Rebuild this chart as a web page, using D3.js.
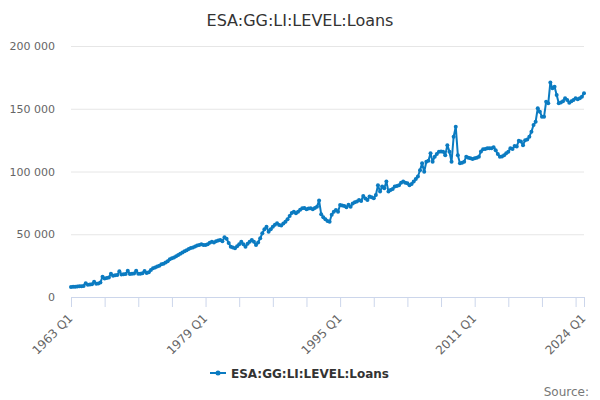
<!DOCTYPE html>
<html>
<head>
<meta charset="utf-8">
<script src="https://cdn.jsdelivr.net/npm/d3@7"></script>
<style>
  body { margin: 0; background: #fff; }
  svg { font-family: "DejaVu Sans", sans-serif; }
</style>
</head>
<body>
<div id="chart"></div>
<script>
const TITLE = "ESA:GG:LI:LEVEL:Loans";
const START_YEAR = 1963;

// quarterly values, thousands
const loans1963to1978 = [
  8.0, 8.1, 8.2, 8.3, 8.5, 8.6, 8.8, 11.0, 9.8, 9.9,
  10.2, 12.2, 10.6, 10.8, 11.5, 16.2, 14.8, 15.2, 15.6, 18.5,
  17.0, 17.3, 17.6, 20.5, 18.0, 18.2, 18.4, 21.0, 18.3, 18.5,
  18.7, 21.0, 18.5, 18.6, 18.9, 20.7, 19.2, 19.8, 21.5, 22.9,
  23.5, 24.3, 25.0, 26.0, 26.5, 27.5, 28.5, 30.0, 30.8, 31.5,
  32.5, 33.5, 34.5, 35.5, 36.5, 37.3, 38.2, 39.0, 39.5, 40.2,
  41.0, 41.5, 42.0, 41.5
];
const loans1979to1994 = [
  41.4, 42.0, 43.2, 44.0, 43.5, 44.5,
  45.0, 45.5, 44.5, 47.6, 46.5, 43.0, 40.0, 39.5, 38.8, 40.5,
  42.0, 44.0, 42.0, 40.0, 42.5, 44.0, 45.4, 44.0, 41.4, 43.5,
  46.8, 50.8, 54.0, 56.0, 52.0, 54.0, 56.0, 57.5, 58.7, 57.4,
  57.0, 58.5, 60.0, 62.0, 64.5, 67.0, 68.0, 66.7, 68.0, 69.5,
  70.7, 71.0, 69.9, 70.5, 70.7, 70.0, 71.0, 72.0, 76.8, 66.0,
  63.5, 62.0, 60.5, 60.0, 65.5, 68.0, 69.3, 68.0
];
const loans1995to2010 = [
  73.3, 73.0,
  72.5, 71.5, 73.5, 72.0, 74.5, 75.5, 76.0, 77.3, 76.5, 80.5,
  78.5, 77.3, 80.0, 79.5, 78.6, 81.3, 89.0, 84.0, 88.0, 86.6,
  92.0, 84.0, 85.3, 86.0, 88.0, 88.5, 89.0, 91.0, 92.0, 91.0,
  90.6, 89.0, 90.0, 92.0, 94.0, 96.0, 101.0, 106.5, 99.8, 107.8,
  108.5, 114.5, 107.8, 111.8, 114.0, 115.8, 116.0, 115.8, 113.0, 121.0,
  115.8, 107.8, 127.7, 135.7, 113.0, 106.5, 107.0, 107.8, 111.8, 111.0,
  110.5, 110.0
];
const loans2011to2024 = [
  110.5, 111.0, 111.8, 116.0, 117.7, 118.0, 118.5, 118.5,
  118.5, 119.3, 117.0, 114.0, 111.8, 112.0, 113.0, 114.5, 115.8, 118.5,
  118.0, 120.3, 120.0, 124.5, 124.0, 121.0, 125.0, 125.5, 127.7, 131.7,
  137.0, 139.7, 150.4, 147.7, 143.7, 143.7, 155.6, 154.3, 171.0, 166.3,
  167.6, 161.0, 154.3, 155.0, 156.0, 158.3, 157.0, 154.8, 156.0, 157.0,
  158.3, 157.5, 158.3, 159.6, 162.3
];

const yTicks = [0, 50000, 100000, 150000, 200000];
const xTickEvery = 16;
const xLabelled = ["1963 Q1", "1979 Q1", "1995 Q1", "2011 Q1", "2024 Q1"];

const values = [].concat(loans1963to1978, loans1979to1994, loans1995to2010, loans2011to2024)
  .map(v => v * 1000);
const data = values.map((v, i) => ({
  i: i,
  label: (START_YEAR + Math.floor(i / 4)) + " Q" + (i % 4 + 1),
  value: v
}));

const W = 600, H = 400;
const MARGIN = {TOP: 46, BOTTOM: 103, LEFT: 71, RIGHT: 16};
const COLOR = "#0b7bc1";
const FONT = "DejaVu Sans, sans-serif";

const svg = d3.select("#chart").append("svg")
  .attr("width", W).attr("height", H);

const x = d3.scaleLinear()
  .domain([0, data.length - 1])
  .range([MARGIN.LEFT, W - MARGIN.RIGHT]);
const y = d3.scaleLinear()
  .domain([0, 200000])
  .range([H - MARGIN.BOTTOM, MARGIN.TOP]);

// title
svg.append("text")
  .attr("x", W / 2).attr("y", 26)
  .attr("text-anchor", "middle")
  .attr("fill", "#333")
  .attr("font-family", FONT)
  .attr("font-size", 16)
  .text(TITLE);

// y axis + grid
const fmt = v => d3.format(",")(v).replace(/,/g, " ");
const yAxis = svg.append("g")
  .attr("transform", `translate(${MARGIN.LEFT},0)`)
  .call(d3.axisLeft(y).tickValues(yTicks).tickFormat(fmt)
    .tickSize(-(W - MARGIN.LEFT - MARGIN.RIGHT)).tickPadding(16))
  .attr("font-family", FONT).attr("font-size", 11);
yAxis.select(".domain").remove();
yAxis.selectAll("line").attr("stroke", "#e6e6e6");
yAxis.selectAll("text").attr("fill", "#666");

// x axis
const xTickVals = d3.range(0, data.length - 1, xTickEvery).concat([data.length - 1]);
const xAxis = svg.append("g")
  .attr("transform", `translate(0,${H - MARGIN.BOTTOM})`)
  .call(d3.axisBottom(x).tickValues(xTickVals).tickSize(10).tickSizeOuter(0)
    .tickFormat(i => xLabelled.includes(data[i].label) ? data[i].label : ""))
  .attr("font-family", FONT).attr("font-size", 12);
xAxis.select(".domain").attr("stroke", "#ccd6eb");
xAxis.selectAll("line").attr("stroke", "#ccd6eb");
xAxis.selectAll("text")
  .attr("fill", "#666")
  .attr("text-anchor", "end")
  .attr("dy", null).attr("y", 0)
  .attr("transform", "translate(2,22) rotate(-45)");

// series
const line = d3.line().x(d => x(d.i)).y(d => y(d.value));
svg.append("path")
  .datum(data)
  .attr("fill", "none")
  .attr("stroke", COLOR)
  .attr("stroke-width", 2)
  .attr("stroke-linejoin", "round")
  .attr("d", line);
svg.append("g").selectAll("circle")
  .data(data)
  .enter().append("circle")
  .attr("cx", d => x(d.i))
  .attr("cy", d => y(d.value))
  .attr("r", 2)
  .attr("fill", COLOR);

// legend
const legend = svg.append("g").attr("transform", "translate(210,373)");
legend.append("line").attr("x1", 0).attr("x2", 16).attr("y1", 0).attr("y2", 0)
  .attr("stroke", COLOR).attr("stroke-width", 2);
legend.append("circle").attr("cx", 8).attr("cy", 0).attr("r", 2.5).attr("fill", COLOR);
legend.append("text").attr("x", 21).attr("y", 4.5)
  .attr("fill", "#333").attr("font-family", FONT)
  .attr("font-size", 12).attr("font-weight", "bold")
  .text(TITLE);

// credits
svg.append("text")
  .attr("x", 589).attr("y", 396)
  .attr("text-anchor", "end")
  .attr("fill", "#777").attr("font-family", FONT).attr("font-size", 12)
  .text("Source:");
</script>
</body>
</html>
